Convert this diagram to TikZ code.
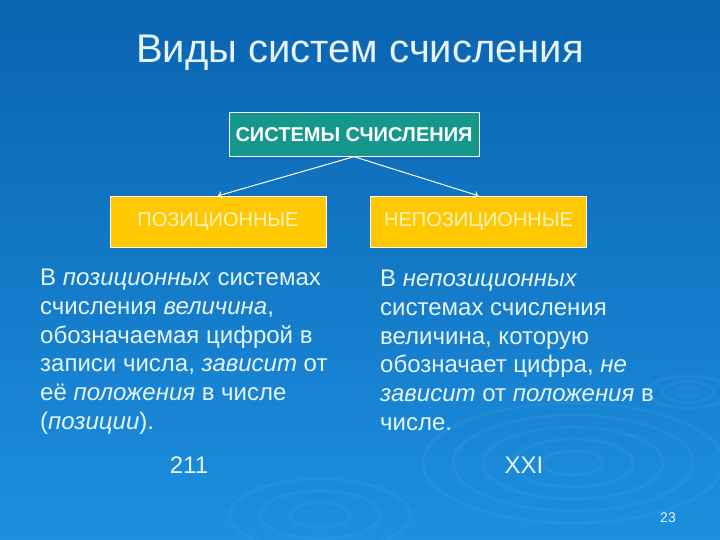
\documentclass[tikz,border=0pt]{standalone}
\usepackage{fontspec}
\setmainfont{Liberation Sans}
\usetikzlibrary{arrows.meta}
\definecolor{bgtop}{HTML}{0A64B0}
\definecolor{bgbot}{HTML}{1C8FDF}
\definecolor{boxteal}{HTML}{15978B}
\definecolor{boxyellow}{HTML}{FFC800}
\definecolor{lighttxt}{HTML}{E6F4FF}
\definecolor{yellowtxt}{HTML}{FFF2C4}

\begin{document}
\begin{tikzpicture}[x=1pt,y=-1pt,
    txt/.style={text=lighttxt,inner sep=0pt},
    ring/.style={draw=white,opacity=0.045,line width=3pt},
    kind/.style={draw=white,fill=boxyellow,text=yellowtxt,minimum width=216pt,minimum height=51pt,
      font=\fontsize{20}{24}\selectfont}]
  \clip (0,0) rectangle (720,540);
  \shade[top color=bgtop,bottom color=bgbot] (0,0) rectangle (720,540);
  % ripples
  \foreach \r in {30,60,...,150} \draw[ring] (573,463) ellipse ({\r pt} and {0.4*\r pt});
  \foreach \r in {12,26,40} \draw[ring] (688,392) ellipse ({\r pt} and {0.4*\r pt});
  \foreach \r in {30,60,90} \draw[ring] (320,515) ellipse ({\r pt} and {0.4*\r pt});

  \node[txt,anchor=base,font=\fontsize{40}{48}\selectfont] (title) at (360,63) {Виды систем счисления};
  \node[draw=white,fill=boxteal,text=white,minimum width=250pt,minimum height=44pt,
    font=\bfseries\fontsize{20}{24}\selectfont] (systems) at (354,134.5) {СИСТЕМЫ СЧИСЛЕНИЯ};
  \node[kind] (pos) at (218,221.5) {ПОЗИЦИОННЫЕ};
  \node[kind] (nonpos) at (478.5,221.5) {НЕПОЗИЦИОННЫЕ};
  \draw[-{To[length=4pt,width=7pt]},white,line width=1pt] (systems.south) -- (pos.north);
  \draw[-{To[length=4pt,width=7pt]},white,line width=1pt] (systems.south) -- (nonpos.north);

  \node[txt,anchor=north west,align=left,font=\fontsize{24}{28.8}\selectfont] (posdef) at (40,268.8)
    {В \textit{позиционных} системах\\ счисления \textit{величина},\\ обозначаемая цифрой в\\
     записи числа, \textit{зависит} от\\ её \textit{положения} в числе\\ (\textit{позиции}).};
  \node[txt,anchor=north west,align=left,font=\fontsize{24}{28.8}\selectfont] (nonposdef) at (380,269.8)
    {В \textit{непозиционных}\\ системах счисления\\ величина, которую\\
     обозначает цифра, \textit{не}\\ \textit{зависит} от \textit{положения} в\\ числе.};
  \node[txt,anchor=base,font=\fontsize{24}{28.8}\selectfont] (posnum) at (189,473) {211};
  \node[txt,anchor=base,font=\fontsize{24}{28.8}\selectfont] (nonposnum) at (524,473) {XXI};
  \node[txt,anchor=base,font=\fontsize{14}{17}\selectfont] (page) at (668,522) {23};
\end{tikzpicture}
\end{document}
